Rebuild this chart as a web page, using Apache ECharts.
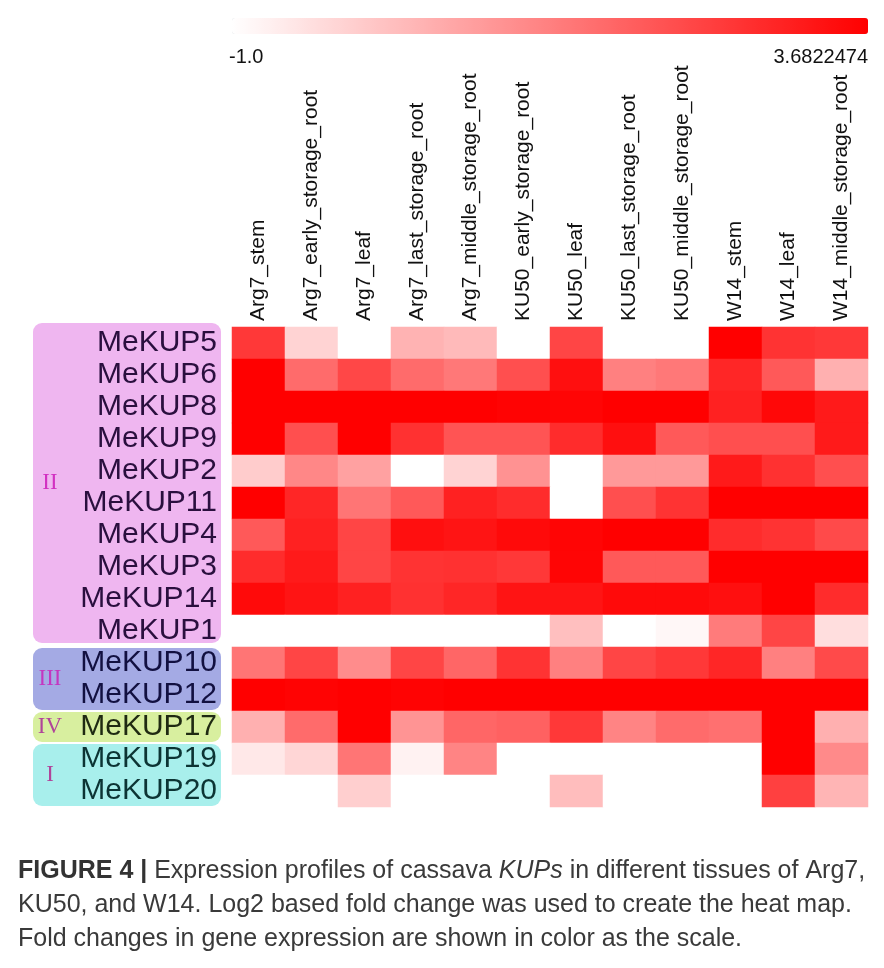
<!DOCTYPE html>
<html>
<head>
<meta charset="utf-8">
<script src="https://cdn.jsdelivr.net/npm/echarts@6/dist/echarts.min.js"></script>
<style>
html,body{margin:0;padding:0;background:#fff;}
#chart{width:884px;height:968px;}
</style>
</head>
<body>
<div id="chart"></div>
<script>
// ---- data ----
const tissues = ['Arg7_stem','Arg7_early_storage_root','Arg7_leaf','Arg7_last_storage_root','Arg7_middle_storage_root','KU50_early_storage_root','KU50_leaf','KU50_last_storage_root','KU50_middle_storage_root','W14_stem','W14_leaf','W14_middle_storage_root'];
const genes = ['MeKUP5','MeKUP6','MeKUP8','MeKUP9','MeKUP2','MeKUP11','MeKUP4','MeKUP3','MeKUP14','MeKUP1','MeKUP10','MeKUP12','MeKUP17','MeKUP19','MeKUP20'];
const scaleMin = -1.0;
const scaleMax = 3.6822474;
const scaleLabels = ['-1.0', '3.6822474'];
// log2 fold change, one row per gene (same order as genes), columns as tissues
const expression = [
  [2.65,-0.20,-1.00,0.40,0.26,-1.00,2.42,-1.00,-1.00,3.68,2.74,2.65],
  [3.68,1.71,2.37,1.71,1.48,2.23,3.40,1.34,1.48,2.98,2.04,0.45],
  [3.68,3.68,3.68,3.68,3.68,3.63,3.59,3.68,3.68,3.07,3.54,3.21],
  [3.68,2.23,3.68,2.79,2.14,2.14,2.88,3.40,2.04,2.23,2.23,3.21],
  [-0.06,1.20,0.73,-1.00,-0.20,1.01,-1.00,0.87,0.87,3.21,2.79,2.23],
  [3.68,2.98,1.53,2.04,3.07,2.88,-1.00,2.23,2.74,3.68,3.68,3.68],
  [2.04,3.07,2.42,3.40,3.31,3.49,3.59,3.68,3.68,2.88,2.74,2.32],
  [2.88,3.21,2.42,2.74,2.79,2.65,3.59,2.04,2.04,3.68,3.68,3.68],
  [3.49,3.31,3.07,2.79,2.98,3.31,3.31,3.49,3.49,3.40,3.68,2.88],
  [-1.00,-1.00,-1.00,-1.00,-1.00,-1.00,0.17,-1.00,-0.86,1.43,2.42,-0.39],
  [1.53,2.42,1.11,2.42,1.81,2.74,1.34,2.42,2.65,2.98,1.34,2.32],
  [3.68,3.63,3.68,3.63,3.68,3.68,3.68,3.68,3.68,3.68,3.68,3.68],
  [0.45,1.71,3.68,0.97,1.81,1.90,2.65,1.25,1.71,1.62,3.68,0.45],
  [-0.58,-0.25,1.53,-0.77,1.25,-1.00,-1.00,-1.00,-1.00,-1.00,3.68,1.15],
  [-1.00,-1.00,-0.11,-1.00,-1.00,-1.00,0.22,-1.00,-1.00,-1.00,2.51,0.36]
];
// gene subfamily groups: [roman label, first row, last row]
const groupLabels = ['II','III','IV','I'];
const groupStart = [0,10,12,13];
const groupEnd = [9,11,12,14];
const captionLines = [
  '{b|FIGURE 4 |} Expression profiles of cassava {i|KUPs} in different tissues of Arg7,',
  'KU50, and W14. Log2 based fold change was used to create the heat map.',
  'Fold changes in gene expression are shown in color as the scale.'
];

// ---- styling / layout ----
const groupFill = ['#efb6f0','#a4aae4','#d8ef9f','#a8efec'];
const groupText = ['#d231c2','#c436c0','#b0449a','#b0449a'];
const geneColor = ['#2a0f3e','#121040','#1f2a12','#0c3434'];
const G = {left:232, top:327, width:636, height:480};
const rowH = G.height / genes.length;
const capFont = '"Liberation Sans", Arial, sans-serif';
const capSize = 25;

const heatData = [];
expression.forEach((row, yi) => row.forEach((v, xi) => heatData.push([xi, yi, v])));

function groupOfRow(i){
  for (let g = 0; g < groupStart.length; g++) if (i >= groupStart[g] && i <= groupEnd[g]) return g;
  return 0;
}

const graphics = [];
groupLabels.forEach((lab, g) => {
  let y0 = G.top + groupStart[g]*rowH + 1;
  let y1 = G.top + (groupEnd[g]+1)*rowH - 1;
  if (g === 0) y0 = G.top - 4;
  if (g === 0) y1 = G.top + (groupEnd[g]+1)*rowH - 4;
  graphics.push({
    type:'rect', z:-10, silent:true,
    shape:{x:33, y:y0, width:188, height:y1-y0, r:9},
    style:{fill:groupFill[g]}
  });
  graphics.push({
    type:'text', z:5, silent:true,
    x: 50, y:(y0+y1)/2,
    style:{text:lab, fill:groupText[g], font:'23px "Liberation Serif", "DejaVu Serif", serif', align:'center', verticalAlign:'middle'}
  });
});
graphics.push({
  type:'text', silent:true, x:229, y:57,
  style:{text:scaleLabels[0], fill:'#111', font:'20px "Liberation Sans", Arial, sans-serif', align:'left', verticalAlign:'middle'}
});
graphics.push({
  type:'text', silent:true, x:868, y:57,
  style:{text:scaleLabels[1], fill:'#111', font:'20px "Liberation Sans", Arial, sans-serif', align:'right', verticalAlign:'middle'}
});
captionLines.forEach((t, i) => {
  graphics.push({
    type:'text', silent:true, x:18, y:871 + i*34,
    style:{
      text:t, fill:'#3a3a3a', font:capSize + 'px ' + capFont,
      verticalAlign:'middle',
      rich:{
        b:{fontWeight:'bold', fill:'#333', fontSize:capSize, fontFamily:capFont},
        i:{fontStyle:'italic', fill:'#3a3a3a', fontSize:capSize, fontFamily:capFont}
      }
    }
  });
});

const chart = echarts.init(document.getElementById('chart'), null, {renderer:'canvas'});
chart.setOption({
  animation:false,
  backgroundColor:'#ffffff',
  grid:{left:G.left, top:G.top, width:G.width, height:G.height, containLabel:false},
  xAxis:{
    type:'category', data:tissues, position:'top',
    axisLine:{show:false}, axisTick:{show:false}, splitLine:{show:false},
    axisLabel:{rotate:-90, margin:6, color:'#111', fontSize:21, fontFamily:'"Liberation Sans", Arial, sans-serif', interval:0}
  },
  yAxis:{
    type:'category', data:genes, inverse:true,
    axisLine:{show:false}, axisTick:{show:false}, splitLine:{show:false},
    axisLabel:{margin:15, fontSize:30, fontFamily:'"Liberation Sans", Arial, sans-serif', interval:0,
      color:(v, i) => geneColor[groupOfRow(i)]}
  },
  visualMap:{
    type:'continuous', min:scaleMin, max:scaleMax, orient:'horizontal',
    left:G.left, top:18, itemWidth:16, itemHeight:G.width, padding:0,
    calculable:false, text:null, showLabel:false, hoverLink:false,
    inRange:{color:['#ffffff','#ff0000']}
  },
  series:[{
    type:'heatmap', data:heatData,
    itemStyle:{borderWidth:0},
    emphasis:{disabled:true}
  }],
  graphic:graphics
});
</script>
</body>
</html>
